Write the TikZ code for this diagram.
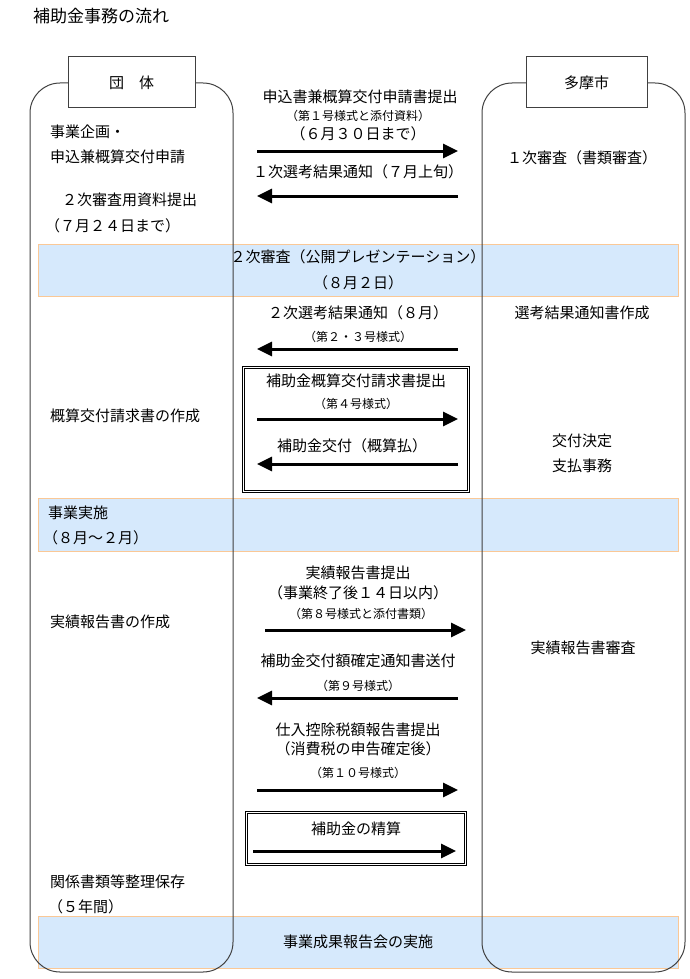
\documentclass[tikz,border=0pt]{standalone}
\usepackage{fontspec}
\setmainfont{Noto Sans CJK JP}
\usepackage{tikz}
\usetikzlibrary{shapes,arrows.meta,positioning}
\definecolor{bandblue}{RGB}{214, 233, 252}
\definecolor{bandorange}{RGB}{250, 200, 150}
\definecolor{laneline}{RGB}{64, 64, 64}
\tikzstyle{lane} = [rectangle, draw=laneline, line width=1pt, rounded corners=30pt, minimum width=203pt, minimum height=889pt]
\tikzstyle{head} = [rectangle, draw=laneline, fill=white, line width=1pt, minimum width=127pt, minimum height=51pt, font=\fontsize{15}{18}\selectfont]
\tikzstyle{band} = [rectangle, draw=bandorange, fill=bandblue, line width=1pt, minimum width=640pt, minimum height=52pt]
\tikzstyle{dbox} = [rectangle, draw=black, double, double distance=1.6pt, line width=0.8pt]
\tikzstyle{textonly} = [draw=none, fill=none, inner sep=0pt, text centered, font=\fontsize{15}{18}\selectfont]
\tikzstyle{lefttext} = [draw=none, fill=none, inner sep=0pt, anchor=west, font=\fontsize{15}{18}\selectfont]
\tikzstyle{smalltext} = [draw=none, fill=none, inner sep=0pt, text centered, font=\fontsize{12}{14}\selectfont]
\tikzstyle{tedge} = [draw, line width=3pt, -{Triangle[length=15pt,width=14pt]}]

\begin{document}
\begin{tikzpicture}[x=1pt, y=-1pt]
\useasboundingbox (0,0) rectangle (690,979);
%lanes and bands=========================

\node[lefttext, font=\fontsize{17}{20}\selectfont] (title) at (33,16) {補助金事務の流れ};

\node[band] (band1) at (358,270) {};
\node[band, minimum height=53pt] (band2) at (358,524.5) {};
\node[band] (band3) at (358,942) {};
\node[lane] (dantai) at (131.5,527.5) {};
\node[lane] (tama) at (583.5,527.5) {};
\node[head] (hdantai) at (131.5,82.5) {団　体};
\node[head, minimum width=121pt] (htama) at (586.5,82.5) {多摩市};
\node[dbox, minimum width=225pt, minimum height=124pt] (box1) at (356,429.5) {};
\node[dbox, minimum width=219pt, minimum height=52pt] (box2) at (356,838.5) {};

%texts=========================

\node[lefttext] (kikaku) at (50,132) {事業企画・};
\node[lefttext] (shinsei) at (50,157) {申込兼概算交付申請};
\node[lefttext] (shiryo) at (62,200) {２次審査用資料提出};
\node[lefttext] (kigen2) at (45,226) {（７月２４日まで）};
\node[textonly] (teishutsu1) at (360,97) {申込書兼概算交付申請書提出};
\node[smalltext] (yoshiki1) at (358,116) {（第１号様式と添付資料）};
\node[textonly] (kigen1) at (358,134) {（６月３０日まで）};
\node[textonly] (tsuchi1) at (358,172) {１次選考結果通知（７月上旬）};
\node[textonly] (shinsa1) at (582,158) {１次審査（書類審査）};

\node[textonly] (shinsa2) at (358,257) {２次審査（公開プレゼンテーション）};
\node[textonly] (presen) at (358,283) {（８月２日）};

\node[textonly] (tsuchi2) at (358,313) {２次選考結果通知（８月）};
\node[smalltext] (yoshiki2) at (358,337) {（第２・３号様式）};
\node[textonly] (sakusei1) at (582,313) {選考結果通知書作成};
\node[textonly] (seikyu) at (356,381) {補助金概算交付請求書提出};
\node[smalltext] (yoshiki4) at (356,404) {（第４号様式）};
\node[textonly] (kofu) at (352,446) {補助金交付（概算払）};
\node[lefttext] (sakusei2) at (50,416) {概算交付請求書の作成};
\node[textonly] (kettei) at (582,441) {交付決定};
\node[textonly] (shiharai) at (582,466) {支払事務};

\node[lefttext] (jisshi) at (48,513) {事業実施};
\node[lefttext] (kikan) at (43,538) {（８月～２月）};

\node[textonly] (jisseki) at (358,573) {実績報告書提出};
\node[textonly] (shuryo) at (358,593) {（事業終了後１４日以内）};
\node[smalltext] (yoshiki8) at (361,614) {（第８号様式と添付書類）};
\node[lefttext] (sakusei3) at (50,622) {実績報告書の作成};
\node[textonly] (shinsa3) at (583,648) {実績報告書審査};
\node[textonly] (kakutei) at (358,661) {補助金交付額確定通知書送付};
\node[smalltext] (yoshiki9) at (358,686) {（第９号様式）};
\node[textonly] (shiire) at (358,730) {仕入控除税額報告書提出};
\node[textonly] (shohizei) at (358,749) {（消費税の申告確定後）};
\node[smalltext] (yoshiki10) at (358,773) {（第１０号様式）};
\node[textonly] (seisan) at (356,829) {補助金の精算};
\node[lefttext] (hozon) at (50,882) {関係書類等整理保存};
\node[lefttext] (nenkan) at (48,907) {（５年間）};
\node[textonly] (hokoku) at (358,942) {事業成果報告会の実施};

% arrow ends
\coordinate (a1s) at (257,151); \coordinate (a1e) at (458,151);
\coordinate (a2s) at (458,196); \coordinate (a2e) at (257,196);
\coordinate (a3s) at (458,349); \coordinate (a3e) at (257,349);
\coordinate (a4s) at (257,419); \coordinate (a4e) at (458,419);
\coordinate (a5s) at (458,464); \coordinate (a5e) at (257,464);
\coordinate (a6s) at (265,630); \coordinate (a6e) at (466,630);
\coordinate (a7s) at (458,698); \coordinate (a7e) at (257,698);
\coordinate (a8s) at (257,790); \coordinate (a8e) at (458,790);
\coordinate (a9s) at (253,851); \coordinate (a9e) at (456,851);

% edges
\path[tedge] (a1s) -- (a1e);
\path[tedge] (a2s) -- (a2e);
\path[tedge] (a3s) -- (a3e);
\path[tedge] (a4s) -- (a4e);
\path[tedge] (a5s) -- (a5e);
\path[tedge] (a6s) -- (a6e);
\path[tedge] (a7s) -- (a7e);
\path[tedge] (a8s) -- (a8e);
\path[tedge] (a9s) -- (a9e);

\end{tikzpicture}
\end{document}
